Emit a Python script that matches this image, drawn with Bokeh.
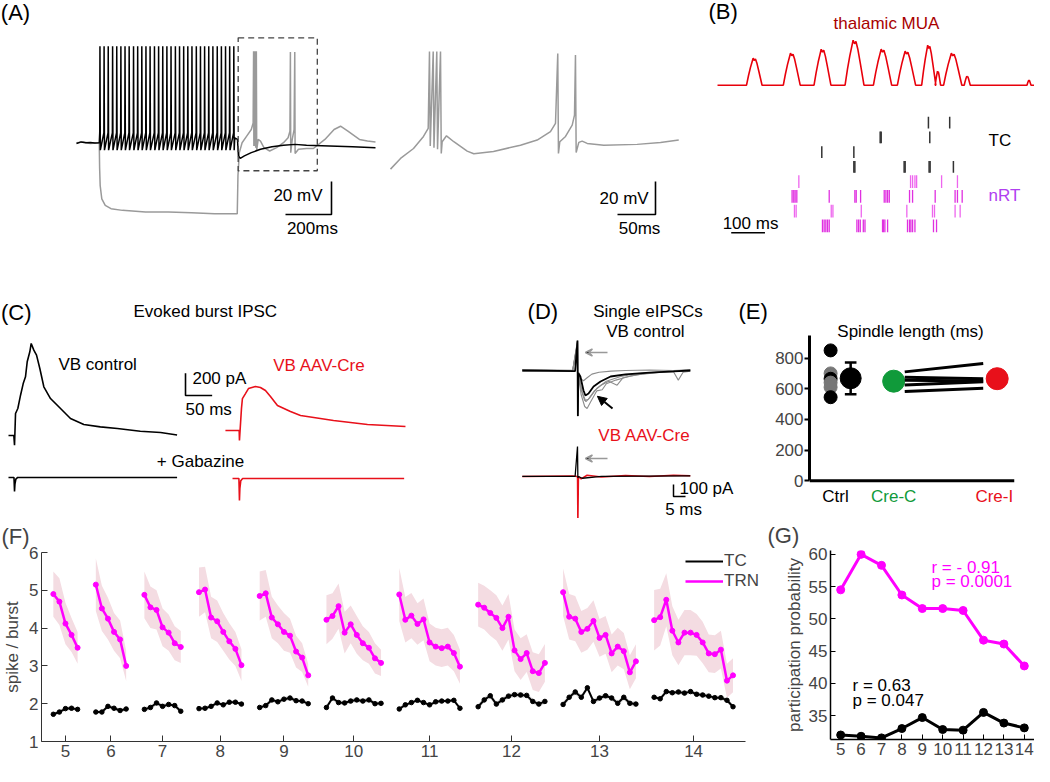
import numpy as np
from bokeh.plotting import figure
from bokeh.layouts import column, row
from bokeh.models import (Range1d, Legend, LegendItem, FixedTicker, Arrow, Title, Span,
                          VeeHead, NormalHead, BoxAnnotation)
from bokeh.core.properties import value
from bokeh.embed import file_html
from bokeh.resources import INLINE

FONT = "Liberation Sans"
MAG = "#ff00ff"
RED = "#e8101a"
GREEN = "#109a3a"
GRAY = "#9a9a9a"

# ---------------- DATA ----------------
# (A) TC neuron, time (ms) / membrane potential (mV)
a_black_pre_t = [0, 20, 40, 60, 80, 99]
a_black_pre_v = [-60.5, -59.5, -60, -59.8, -60.2, -60]
a_black_spikes_ms = [102, 120, 138, 157, 175, 193, 211, 229, 248, 266, 284, 302, 320, 339, 357,
                     375, 393, 411, 430, 448, 466, 484, 502, 521, 539, 557, 575, 593, 612, 630,
                     648, 666, 684]
a_spike_onset_mV = -54
a_spike_peak_mV = -1.5
a_spike_trough_mV = -64.5
a_black_post_t = [688, 700, 704, 712, 730, 760, 800, 850, 900, 950, 1000, 1100, 1200, 1300]
a_black_post_v = [-57, -58, -68, -69.5, -68, -66, -64, -62.5, -61.5, -61, -61.5, -62, -62.5, -63]
a_gray_t = [0, 30, 60, 99, 100.5, 103, 110, 125, 150, 200, 300, 400, 500, 600, 699, 702, 708, 720,
            740, 760, 768, 770, 771.2, 774, 775.2, 778, 779.2, 782, 783.5, 790, 800, 815, 840, 870,
            900, 920, 928, 930, 931.5, 938, 946, 949, 950.5, 965, 1000, 1030, 1080, 1120, 1148,
            1180, 1230, 1265, 1300]
a_gray_v = [-60, -59.5, -60.5, -60, -75, -86, -94, -98, -100, -101, -102, -102, -102.5, -103, -103,
            -80, -66, -60, -56, -52, -48, -4.5, -62, -4.5, -62, -4.5, -63, -4.5, -64.5, -58, -59,
            -63, -65, -63, -60, -57, -53, -5, -66, -58, -52, -5, -66.5, -64, -63.5, -63.5, -58,
            -52, -50, -53, -58, -59, -59.5]
a_zoom_window_ms = [703, 1047]
a_zoom_window_mV = [-77, 3.6]
a_inset_t = [0, 13.2, 30.3, 43.4, 49.6, 51.3, 52.3, 56.2, 57.2, 60.9, 61.9, 65.8, 66.8, 68.0, 73.7,
             83.3, 100.9, 109.6, 135.5, 171, 193, 210.5, 217.1, 220.1, 221.0, 222.8, 230.3, 239.1,
             242.1, 243.4, 244.3, 247.8, 252.2, 258.8, 280.7, 324.6, 355.3, 379.3]
a_inset_v = [-76.0, -69.5, -63.5, -56.2, -51.3, -4.7, -62, -4.7, -63, -4.7, -64, -4.7, -66.5, -59.4,
             -55.8, -59.4, -65.1, -66.7, -65.3, -61.5, -58.4, -53.3, -48.3, -5.9, -66.5, -59.4,
             -56.2, -49.3, -43.3, -6.9, -65.9, -59.8, -59.0, -60.4, -61.5, -61.0, -59.8, -58.4]
a_scale_ms, a_scale_mV = 200, 20
a_inset_scale_ms, a_inset_scale_mV = 50, 20

# (B) thalamic MUA peaks (ms, amplitude, half-width) and rasters (ms)
mua_peak_ms = [109, 220, 311, 406, 489, 560, 626, 653, 697, 740, 923]
mua_peak_amp = [27, 32, 36, 45, 36, 34, 40, 14, 32, 9, 5]
mua_halfwidth_ms = [23, 25, 25, 28, 27, 27, 21, 8, 27, 9, 6]
mua_end_ms = 940
tc_rows = [
    [625, 688],
    [482, 485, 629],
    [309, 404],
    [404, 407, 553, 556, 627, 630, 699],
]
nrt_rows = [
    [241, 572, 578, 585, 590, 664, 711],
    [221, 226, 230, 235, 331, 407, 411, 424, 494, 499, 504, 509, 569, 578, 645, 704, 711, 725],
    [228, 233, 337, 342, 426, 561, 637, 643, 704, 719],
    [311, 316, 321, 326, 331, 413, 418, 423, 432, 437, 489, 492, 496, 504, 563, 569, 573, 578,
     585, 640, 649],
]
b_scale_ms = 100

# (C) evoked burst IPSC, time (ms) / current (pA)
c_ctrl_t = [-11.3, -1.3, 0, 1.9, 6.2, 11.3, 16.3, 20.6, 23.8, 28.7, 31.3, 36.2, 41.3, 47.5, 55,
            67.5, 86.3, 105, 130, 161, 193, 236, 274, 305]
c_ctrl_pA = [0, 0, -87, 198, 243, 363, 468, 529, 664, 754, 829, 769, 724, 604, 439, 333, 243, 153,
             99, 78, 63, 39, 27, 5]
c_cre_t = [-26.3, -5.6, -0.5, 0, 3.8, 5.6, 11.3, 16.9, 30, 39.4, 48.8, 58.2, 71.3, 95.7, 114.6,
           176.5, 240.2, 311.5]
c_cre_pA = [0, 0, 0, -90, 198, 288, 333, 378, 396, 387, 360, 306, 225, 171, 135, 90, 54, 36]
c_gbz_ctrl_t = [-11.3, -1, 0, 0.8, 2.5, 6, 305]
c_gbz_ctrl_pA = [0, 0, -126, -60, -15, 0, 0]
c_gbz_cre_t = [-13, -1, 0, 0.8, 2.5, 6, 309]
c_gbz_cre_pA = [0, 0, -198, -90, -20, 0, 0]
c_scale_ms, c_scale_pA = 50, 200

# (D) single eIPSCs, time (ms) / current (pA)
d_mean_t = [-23, -1, 0, 0.15, 0.35, 1.2, 2.5, 3.3, 4.6, 6.7, 9.6, 13.8, 20, 30, 40, 47]
d_mean_pA = [0, -5, 250, -380, -20, -50, -167, -208, -192, -133, -92, -50, -33, -17, -8, 0]
d_gray_t = [
    [-23, -2, 0, 0.15, 0.5, 1.5, 2.5, 4, 6, 9, 14, 20, 30, 40, 47],
    [-23, -2, 0, 0.15, 0.5, 1.5, 3, 4, 5.5, 8, 10.3, 12, 16, 22, 30, 38, 47],
    [-23, -2, 0, 0.15, 0.5, 1.5, 3, 4.5, 7, 10, 13, 16.5, 19, 25, 35, 40, 42, 44, 47],
    [-23, -2, 0, 0.15, 0.5, 2, 3.5, 5, 8, 12, 18, 25, 35, 47],
]
d_gray_pA = [
    [8, 0, 230, -300, -30, -70, -85, -60, -30, -15, -5, 0, 4, 0, 6],
    [0, 3, 250, -383, -60, -200, -300, -317, -260, -170, -160, -110, -80, -45, -20, -10, 0],
    [-5, 0, 240, -350, -40, -160, -250, -240, -170, -120, -90, -122, -60, -35, -15, -10, -80, -15, -5],
    [5, -3, 220, -330, -40, -180, -260, -230, -150, -90, -50, -25, -10, 5],
]
d_cre_red_t = [-23, -2, -0.1, 0, 0.15, 0.4, 1.5, 4, 10, 20, 30, 40, 47]
d_cre_red_pA = [0, 3, 0, 0, -400, 0, -20, 10, -5, 8, 0, 10, 6]
d_cre_black_t = [-23, -1, 0, 0.15, 0.4, 2, 10, 47]
d_cre_black_pA = [0, 0, 250, -10, 0, -15, 0, 5]
d_scale_ms, d_scale_pA = 5, 100

# (E) spindle length (ms)
e_ctrl = [850, 700, 665, 640, 610, 545]
e_cre_c = [710, 675, 655, 625, 582]
e_cre_i = [765, 665, 650, 645, 603]
e_categories = ["Ctrl", "Cre-C", "Cre-I"]

# (F) spike / burst per cycle position
f_cycles = [5, 6, 7, 8, 9, 10, 11, 12, 13, 14]
f_trn = [
    [4.9, 4.7, 4.12, 3.82, 3.48],
    [5.15, 4.52, 4.25, 3.9, 3.7, 3.0],
    [4.88, 4.55, 4.48, 4.02, 3.88, 3.6, 3.5],
    [4.95, 5.02, 4.28, 4.18, 3.9, 3.65, 3.45, 3.02],
    [4.85, 4.92, 4.28, 4.1, 3.9, 3.8, 3.38, 3.22, 2.75],
    [4.22, 4.32, 4.58, 3.88, 4.1, 3.82, 3.6, 3.48, 3.2, 3.08],
    [4.89, 4.22, 4.33, 4.11, 4.23, 3.62, 3.51, 3.47, 3.51, 3.34, 2.98],
    [4.62, 4.54, 4.40, 4.27, 4.0, 4.3, 3.41, 3.18, 3.34, 2.86, 2.81, 3.08],
    [4.95, 4.30, 4.25, 3.90, 3.98, 4.19, 3.74, 3.82, 3.33, 3.51, 3.39, 2.83, 3.12],
    [4.21, 4.29, 4.75, 3.93, 3.62, 3.88, 3.88, 3.82, 3.62, 3.33, 3.31, 3.43, 2.61, 2.75],
]
f_trn_sem = [
    [0.6, 0.62, 0.55, 0.45, 0.42],
    [0.7, 0.6, 0.55, 0.5, 0.5, 0.4],
    [0.62, 0.55, 0.52, 0.5, 0.48, 0.45, 0.42],
    [0.65, 0.6, 0.55, 0.55, 0.5, 0.48, 0.45, 0.42],
    [0.65, 0.62, 0.55, 0.5, 0.5, 0.45, 0.42, 0.38, 0.3],
    [0.65, 0.6, 0.6, 0.55, 0.5, 0.5, 0.45, 0.42, 0.4, 0.35],
    [0.7, 0.6, 0.6, 0.55, 0.55, 0.5, 0.5, 0.5, 0.5, 0.48, 0.45],
    [0.58, 0.58, 0.6, 0.6, 0.6, 0.6, 0.55, 0.55, 0.5, 0.5, 0.5, 0.5],
    [0.63, 0.6, 0.6, 0.55, 0.55, 0.55, 0.5, 0.5, 0.5, 0.5, 0.48, 0.45, 0.45],
    [0.8, 0.75, 0.7, 0.65, 0.6, 0.6, 0.6, 0.55, 0.55, 0.5, 0.5, 0.5, 0.45, 0.45],
]
f_tc = [
    [1.72, 1.78, 1.87, 1.88, 1.85],
    [1.78, 1.78, 1.93, 1.88, 1.82, 1.86],
    [1.85, 1.9, 2.02, 1.93, 1.98, 1.95, 1.8],
    [1.87, 1.88, 1.93, 2.02, 1.97, 2.04, 2.04, 1.99],
    [1.9, 1.95, 2.1, 2.05, 2.12, 2.15, 2.08, 2.07, 2.0],
    [1.9, 2.15, 2.03, 2.02, 2.07, 2.1, 2.07, 2.1, 2.0, 2.01],
    [1.86, 1.97, 2.03, 2.09, 2.03, 1.97, 2.05, 2.07, 2.07, 2.09, 1.88],
    [1.92, 2.1, 2.21, 1.99, 2.1, 2.2, 2.24, 2.23, 2.22, 2.06, 1.99, 2.06],
    [1.98, 2.17, 2.31, 2.17, 2.42, 2.06, 2.15, 2.21, 2.15, 2.01, 2.17, 2.01, 1.99],
    [2.17, 2.13, 2.32, 2.29, 2.31, 2.28, 2.32, 2.25, 2.23, 2.2, 2.16, 2.16, 2.09, 1.92],
]
f_tc_sem = [0.05, 0.05, 0.06, 0.05, 0.06, 0.06, 0.05, 0.07, 0.07, 0.06]

# (G) participation probability
g_cycles = [5, 6, 7, 8, 9, 10, 11, 12, 13, 14]
g_trn = [54.5, 60.0, 58.3, 53.7, 51.6, 51.6, 51.3, 46.7, 46.1, 42.7]
g_tc = [32.0, 31.8, 31.55, 33.0, 34.7, 32.85, 32.75, 35.5, 33.85, 33.1]
g_trn_stats = ["r = - 0.91", "p = 0.0001"]
g_tc_stats = ["r = 0.63", "p = 0.047"]


# ---------------- helpers ----------------
def blank(w, h, xr, yr):
    p = figure(width=w, height=h, x_range=Range1d(*xr), y_range=Range1d(*yr),
               x_axis_location=None, y_axis_location=None, frame_align=False,
               output_backend="svg", toolbar_location=None, min_border=0)
    p.grid.visible = False
    p.outline_line_color = None
    return p


def txt(p, x, y, s, size=17, color="black", align="left", baseline="middle"):
    p.text(x=[x], y=[y], text=[s], text_font=value(FONT), text_font_size=value(f"{size}px"),
           text_color=color, text_align=align, text_baseline=baseline)


def style_axis(ax, size=17):
    ax.major_label_text_font = FONT
    ax.major_label_text_font_size = f"{size}px"
    ax.axis_label_text_font = FONT
    ax.axis_label_text_font_size = f"{size}px"
    ax.axis_label_text_font_style = "normal"
    ax.minor_tick_line_color = None


def letter_title(p, s, offset, standoff):
    p.add_layout(Title(text=s, align="left", offset=offset, standoff=standoff,
                       text_font=FONT, text_font_size="22px", text_font_style="normal"), "above")


# ---------------- (A) ----------------
pA = blank(385, 296, (-330.4, 1343.5), (-153.2, 26.2))
bt, bv = list(a_black_pre_t), list(a_black_pre_v)
for s in a_black_spikes_ms:
    bt += [s - 1.0, s, s + 1.6]
    bv += [a_spike_onset_mV, a_spike_peak_mV, a_spike_trough_mV]
bt += a_black_post_t
bv += a_black_post_v
pA.line(a_gray_t, a_gray_v, color=GRAY, line_width=1.5)
pA.line(bt, bv, color="black", line_width=1.5)
pA.add_layout(BoxAnnotation(left=a_zoom_window_ms[0], right=a_zoom_window_ms[1],
                            bottom=a_zoom_window_mV[0], top=a_zoom_window_mV[1],
                            fill_color=None, fill_alpha=0, line_color="#444444", line_alpha=1,
                            line_dash="6 4", line_width=1.3))
ax0, ay0 = 1108.7, -103.5
pA.line([ax0 - a_scale_ms, ax0, ax0], [ay0, ay0, ay0 + a_scale_mV], color="black", line_width=1.6)
txt(pA, ax0 - 39, ay0 + 11.6, f"{a_scale_mV} mV", align="right")
txt(pA, ax0 - 83, ay0 - 8.5, f"{a_scale_ms}ms", align="center")
txt(pA, -329, 19.0, "(A)", size=22)

pAi = blank(320, 296, (-6.58, 414.5), (-153.2, 26.2))
pAi.line(a_inset_t, a_inset_v, color=GRAY, line_width=1.5)
ix0, iy0 = 348.7, -103.5
pAi.line([ix0 - a_inset_scale_ms, ix0, ix0], [iy0, iy0, iy0 + a_inset_scale_mV],
         color="black", line_width=1.6)
txt(pAi, ix0 - 9, iy0 + 9.7, f"{a_inset_scale_mV} mV", align="right")
txt(pAi, ix0 - 21, iy0 - 8.5, f"{a_inset_scale_ms}ms", align="center")

# ---------------- (B) ----------------
pB = blank(329, 296, (-35.6, 939.3), (296, 0))
MUA_BASE = 84.7
SHAPE_X = [-1, -0.75, -0.5, -0.3, -0.15, 0, 0.15, 0.35, 0.6, 0.8, 1]
SHAPE_Y = [0, 0.35, 0.65, 0.85, 1.0, 0.92, 0.97, 0.8, 0.5, 0.25, 0]
mt, mv = [0.0], [0.0]
for c, a, w in zip(mua_peak_ms, mua_peak_amp, mua_halfwidth_ms):
    for rx, ry in zip(SHAPE_X, SHAPE_Y):
        mt.append(c + rx * w)
        mv.append(a * ry)
mt.append(mua_end_ms)
mv.append(0)
pB.line(mt, [MUA_BASE - v for v in mv], color="#e8000b", line_width=1.6)
RTOP, RH = 114.7, 14.75
for i, spikes in enumerate(tc_rows):
    y0 = RTOP + i * RH + 1.5
    pB.segment(x0=spikes, x1=spikes, y0=[y0] * len(spikes), y1=[y0 + RH - 3] * len(spikes),
               color="#333333", line_width=1.5)
for i, spikes in enumerate(nrt_rows):
    y0 = RTOP + (len(tc_rows) + i) * RH + 1.0
    pB.segment(x0=spikes, x1=spikes, y0=[y0] * len(spikes), y1=[y0 + RH - 2] * len(spikes),
               color="#e030e0" if i % 2 else "#ee66ee", line_width=1.3)
txt(pB, -26.7, 11, "(B)", size=22)
txt(pB, 500.7, 23, "thalamic MUA", color="#a80000", align="center")
txt(pB, 803, 140, "TC")
txt(pB, 803, 195, "nRT", color="#b040f0")
pB.line([40.6, 40.6 + b_scale_ms], [232.3, 232.3], color="black", line_width=1.6)
txt(pB, 97.8, 223, f"{b_scale_ms} ms", align="center")

# ---------------- (C) ----------------
pC = blank(520, 222, (-26.3, 949.3), (-747.7, 1252.3))
CRE_DT, CRE_DV = 422, 45
GBZ_CTRL, GBZ_CRE = -378, -387
pC.line(c_ctrl_t, c_ctrl_pA, color="black", line_width=1.6)
pC.line(c_gbz_ctrl_t, [v + GBZ_CTRL for v in c_gbz_ctrl_pA], color="black", line_width=1.6)
pC.line([t + CRE_DT for t in c_cre_t], [v + CRE_DV for v in c_cre_pA], color=RED, line_width=1.6)
pC.line([t + CRE_DT for t in c_gbz_cre_t], [v + GBZ_CRE for v in c_gbz_cre_pA], color=RED,
        line_width=1.6)
cx0, cy0 = 320.8, 360
pC.line([cx0, cx0, cx0 + c_scale_ms], [cy0 + c_scale_pA, cy0, cy0], color="black", line_width=1.6)
txt(pC, cx0 + 13, cy0 + 153, f"{c_scale_pA} pA")
txt(pC, cx0, cy0 - 126, f"{c_scale_ms} ms")
txt(pC, -25.5, 1112, "(C)", size=22)
txt(pC, 358, 1117, "Evoked burst IPSC", align="center")
txt(pC, 156, 640, "VB control", align="center")
txt(pC, 572, 631, "VB AAV-Cre", color=RED, align="center")
txt(pC, 349, -234, "+ Gabazine", align="center")

# ---------------- (D) ----------------
pD = blank(252, 222, (-23.75, 81.25), (-1233.3, 616.7))
CRE_OFF = -883
for gt, gv in zip(d_gray_t, d_gray_pA):
    pD.line(gt, gv, color="#8c8c8c", line_width=1.1)
pD.line(d_mean_t, d_mean_pA, color="black", line_width=1.8)
pD.line(d_cre_red_t, [v + CRE_OFF for v in d_cre_red_pA], color=RED, line_width=1.5)
pD.line(d_cre_black_t, [v + CRE_OFF for v in d_cre_black_pA], color="black", line_width=1.3)
pD.add_layout(Arrow(end=VeeHead(size=7, line_color="#999999", line_width=1.5),
                    x_start=12.5, y_start=150, x_end=3.3, y_end=150,
                    line_color="#999999", line_width=1.5))
pD.add_layout(Arrow(end=VeeHead(size=7, line_color="#999999", line_width=1.5),
                    x_start=12.5, y_start=-733, x_end=3.3, y_end=-733,
                    line_color="#999999", line_width=1.5))
pD.add_layout(Arrow(end=NormalHead(size=9, fill_color="black", line_color="black"),
                    x_start=14.6, y_start=-317, x_end=8.3, y_end=-215,
                    line_color="black", line_width=2))
dx0, dy0 = 40, -1050
pD.line([dx0, dx0, dx0 + d_scale_ms], [dy0 + d_scale_pA, dy0, dy0], color="black", line_width=1.5)
txt(pD, dx0 + 2.5, dy0 + 67, f"{d_scale_pA} pA")
txt(pD, dx0 + 4.2, dy0 - 110, f"{d_scale_ms} ms", align="center")
txt(pD, -20.8, 492, "(D)", size=22)
txt(pD, 29.4, 492, "Single eIPSCs", align="center")
txt(pD, 28.3, 325, "VB control", align="center")
txt(pD, 27.9, -539, "VB AAV-Cre", color=RED, align="center")
txt(pD, 67.1, 492, "(E)", size=22)

# ---------------- (E) ----------------
pE = figure(width=262, height=222, x_range=Range1d(-0.448, 3.078),
            y_range=Range1d(-245.8, 1201.4), x_axis_location=None, frame_align=False,
            output_backend="svg", toolbar_location=None,
            min_border_left=35, min_border_right=20, min_border_top=0, min_border_bottom=0)
pE.grid.visible = False
pE.outline_line_color = None
style_axis(pE.yaxis[0])
pE.yaxis.ticker = FixedTicker(ticks=[0, 200, 400, 600, 800])
pE.yaxis.bounds = (0, 945)
pE.yaxis.major_tick_in = 0
pE.yaxis.major_tick_out = 5
pE.yaxis.major_tick_line_width = 2
pE.yaxis.axis_line_width = 3
pE.yaxis.major_label_standoff = 1
pE.add_layout(Span(location=0, dimension="width", line_color="black", line_width=3))
CAT_X = [0.0, 1.0, 2.78]
ctrl_colors = ["black", "#777777", "black", "#777777", "#777777", "black"]
pE.scatter([-0.085] * len(e_ctrl), e_ctrl, size=13, color=ctrl_colors)
m, sd = float(np.mean(e_ctrl)), float(np.std(e_ctrl, ddof=1))
pE.segment(x0=[0.26, 0.16, 0.16], x1=[0.26, 0.36, 0.36], y0=[m - sd, m - sd, m + sd],
           y1=[m + sd, m - sd, m + sd], color="black", line_width=2.5)
pE.scatter([0.26], [m], size=21, color="black")
pE.scatter([CAT_X[1]], [float(np.mean(e_cre_c))], size=22, color=GREEN)
pE.segment(x0=[1.19] * len(e_cre_c), x1=[2.54] * len(e_cre_i), y0=e_cre_c, y1=e_cre_i,
           color="black", line_width=3)
pE.scatter([CAT_X[2]], [float(np.mean(e_cre_i))], size=22, color=RED)
for cx, name, col in zip([0.0, 1.0, 2.73], e_categories, ["black", GREEN, RED]):
    txt(pE, cx, -102, name, color=col, align="center")
txt(pE, 1.29, 973, "Spindle length (ms)", align="center")

# ---------------- (F) ----------------
pF = figure(width=767, height=248, x_range=Range1d(-1.95, 117.68), y_range=Range1d(1, 6),
            output_backend="svg", toolbar_location=None, frame_align=False,
            min_border_left=40, min_border_right=0, min_border_top=34, min_border_bottom=25)
pF.grid.visible = False
pF.outline_line_color = None
F_GAP = 3
pos = 0
all_x, all_trn, all_tc, centers = [], [], [], []
for trn, sem, tc, tsem in zip(f_trn, f_trn_sem, f_tc, f_tc_sem):
    xs = list(range(pos, pos + len(trn)))
    pos = xs[-1] + F_GAP
    centers.append(float(np.mean(xs)))
    pF.varea(x=xs, y1=[a - b for a, b in zip(trn, sem)], y2=[a + b for a, b in zip(trn, sem)],
             fill_color="#f4dce2")
    pF.varea(x=xs, y1=[a - tsem for a in tc], y2=[a + tsem for a in tc], fill_color="#dedede")
    all_x += xs + [np.nan]
    all_trn += trn + [np.nan]
    all_tc += tc + [np.nan]
tc_line = pF.line(all_x, all_tc, color="black", line_width=2)
pF.scatter(all_x, all_tc, size=4.5, color="black")
trn_line = pF.line(all_x, all_trn, color=MAG, line_width=2.5)
pF.scatter(all_x, all_trn, size=5, color=MAG)
for ax in (pF.xaxis[0], pF.yaxis[0]):
    style_axis(ax)
    ax.major_tick_in = 6
    ax.major_tick_out = 0
    ax.axis_line_color = "#333333"
    ax.major_tick_line_color = "#333333"
    ax.major_label_standoff = 3
pF.xaxis.bounds = (-1.95, 114.06)
pF.xaxis.ticker = FixedTicker(ticks=centers)
pF.xaxis.major_label_overrides = {c: str(k) for c, k in zip(centers, f_cycles)}
pF.yaxis.ticker = FixedTicker(ticks=[1, 2, 3, 4, 5, 6])
pF.yaxis.axis_label = "spike / burst"
pF.yaxis.axis_label_standoff = 4
leg = Legend(items=[LegendItem(label="TC", renderers=[tc_line]),
                    LegendItem(label="TRN", renderers=[trn_line])],
             location=(644, 150), border_line_color=None, background_fill_alpha=0,
             label_text_font=FONT, label_text_font_size="17px", glyph_width=38,
             glyph_height=16, label_height=16, spacing=0, padding=0, margin=0, label_standoff=1)
pF.add_layout(leg)
letter_title(pF, "(F)", -40, 7)

# ---------------- (G) ----------------
pG = figure(width=267, height=248, x_range=Range1d(4.5, 14.5), y_range=Range1d(31.3, 60.6),
            output_backend="svg", toolbar_location=None, frame_align=False,
            min_border_left=63, min_border_right=0, min_border_top=31, min_border_bottom=27)
pG.grid.visible = False
pG.outline_line_color = None
pG.line(g_cycles, g_trn, color=MAG, line_width=3)
pG.scatter(g_cycles, g_trn, size=8, color=MAG)
pG.line(g_cycles, g_tc, color="black", line_width=3)
pG.scatter(g_cycles, g_tc, size=8, color="black")
for ax in (pG.xaxis[0], pG.yaxis[0]):
    style_axis(ax)
    ax.major_tick_in = 5
    ax.major_tick_out = 0
    ax.axis_line_width = 1.5
    ax.major_label_standoff = 3
pG.xaxis.ticker = FixedTicker(ticks=g_cycles)
pG.yaxis.ticker = FixedTicker(ticks=[35, 40, 45, 50, 55, 60])
pG.yaxis.axis_label = "participation probability"
pG.yaxis.axis_label_standoff = 2
txt(pG, 9.45, 57.9, g_trn_stats[0], color=MAG)
txt(pG, 9.45, 55.75, g_trn_stats[1], color=MAG)
txt(pG, 5.58, 39.6, g_tc_stats[0])
txt(pG, 5.58, 37.35, g_tc_stats[1])
letter_title(pG, "(G)", -63, 5)

layout = column(row(pA, pAi, pB), row(pC, pD, pE), row(pF, pG))
open("out.html", "w").write(file_html(layout, INLINE))
